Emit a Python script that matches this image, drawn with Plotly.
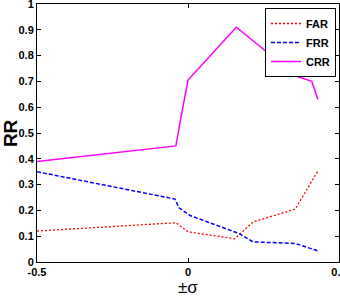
import plotly.graph_objects as go

far_x = [-0.5, -0.043, -0.035, 0.0, 0.155, 0.215, 0.355, 0.43]
far_y = [0.12, 0.152, 0.148, 0.117, 0.09, 0.155, 0.205, 0.353]

frr_x = [-0.5, -0.043, -0.03, 0.007, 0.17, 0.215, 0.355, 0.43]
frr_y = [0.35, 0.244, 0.21, 0.18, 0.11, 0.078, 0.072, 0.043]

crr_x = [-0.5, -0.04, -0.025, 0.0, 0.16, 0.36, 0.41, 0.43]
crr_y = [0.39, 0.45, 0.55, 0.705, 0.91, 0.72, 0.70, 0.63]

x_ticks = [-0.5, 0, 0.5]
y_ticks = [0, 0.1, 0.2, 0.3, 0.4, 0.5, 0.6, 0.7, 0.8, 0.9, 1]

FONT = "Liberation Sans"

fig = go.Figure()
fig.add_trace(go.Scatter(x=far_x, y=far_y, mode="lines", name="FAR",
                         line=dict(color="#ff0000", width=1.3, dash="2px,2px")))
fig.add_trace(go.Scatter(x=frr_x, y=frr_y, mode="lines", name="FRR",
                         line=dict(color="#0000ff", width=1.5, dash="4px,2px")))
fig.add_trace(go.Scatter(x=crr_x, y=crr_y, mode="lines", name="CRR",
                         line=dict(color="#ff00ff", width=1.5)))

axis_common = dict(showline=True, linecolor="black", linewidth=1, mirror="ticks",
                   ticks="inside", ticklen=4, tickcolor="black", showgrid=False,
                   zeroline=False, ticklabeloverflow="allow", automargin=False,
                   tickfont=dict(family=FONT, size=11, color="black", weight="bold"))

fig.update_layout(
    width=340, height=297,
    margin=dict(l=37, r=1, t=4, b=35, autoexpand=False),
    paper_bgcolor="white", plot_bgcolor="white",
    showlegend=True,
    legend=dict(x=0.990, y=0.9845, xanchor="right", yanchor="top",
                bgcolor="white", bordercolor="black", borderwidth=1,
                font=dict(family=FONT, size=11, color="black", weight="bold"),
                tracegroupgap=0, itemwidth=30),
    xaxis=dict(range=[-0.5, 0.5], tickvals=x_ticks, ticktext=["-0.5", "0", "0.5"], **axis_common),
    yaxis=dict(range=[0, 1], tickvals=y_ticks,
               ticktext=["0", "0.1", "0.2", "0.3", "0.4", "0.5", "0.6", "0.7", "0.8", "0.9", "1"],
               **axis_common),
    annotations=[
        dict(text="RR", xref="paper", yref="paper", x=-0.089, y=0.5, textangle=-90,
             showarrow=False, xanchor="center", yanchor="middle",
             font=dict(family=FONT, size=19, color="black", weight="bold")),
        dict(text="±σ", xref="paper", yref="paper", x=0.5, y=-0.1, showarrow=False,
             xanchor="center", yanchor="middle",
             font=dict(family=FONT, size=17, color="black")),
    ],
)

fig.write_html("out.html", config={"displayModeBar": False},
               post_script="document.body.style.margin='0';document.body.style.overflow='hidden';")
